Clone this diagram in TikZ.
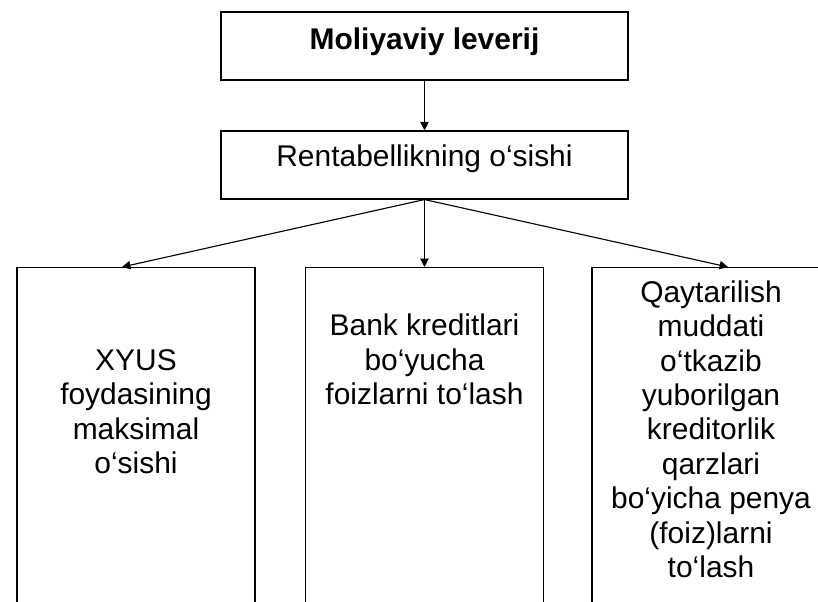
\documentclass[tikz,border=0pt]{standalone}
\usepackage{fontspec}
\setmainfont{Liberation Sans}
\usetikzlibrary{positioning,arrows.meta}

\begin{document}
\begin{tikzpicture}[
		blok/.style={draw, line width=0.8pt, inner sep=0pt},
		wide/.style={blok, minimum width=10.175cm, minimum height=1.7cm},
		ustun/.style={blok, anchor=north, minimum width=5.95cm, minimum height=9.5cm},
		matn/.style={anchor=north, inner sep=0pt, align=center, font=\fontsize{21.3}{24.5}\selectfont},
		strelka/.style={-{Triangle[length=6pt,width=6pt]}, line width=0.8pt}
	]
				\useasboundingbox (0, 0) rectangle (20.45, -15.05);
				\clip (0, 0) rectangle (20.45, -15.05);

				%%top two boxes
				\node[wide] (leverij) at (10.6125, -1.15) {};
				\node[matn, font=\fontsize{21.3}{24.5}\selectfont\bfseries, below=0.4cm of leverij.north] (leverijtxt) {Moliyaviy leverij};

				\node[wide] (renta) at (10.6125, -4.125) {};
				\node[matn, below=0.35cm of renta.north] (rentatxt) {Rentabellikning o‘sishi};

				%%three columns, cut off at the bottom
				\node[ustun] (xyus) at (3.4, -6.675) {};
				\node[matn, below=2.05cm of xyus.north] (xyustxt) {XYUS\\foydasining\\maksimal\\o‘sishi};

				\node[ustun] (bank) at (10.6125, -6.675) {};
				\node[matn, below=1.17cm of bank.north] (banktxt) {Bank kreditlari\\bo‘yucha\\foizlarni to‘lash};

				\node[ustun] (penya) at (17.775, -6.675) {};
				\node[matn, below=0.33cm of penya.north] (penyatxt) {Qaytarilish\\muddati\\o‘tkazib\\yuborilgan\\kreditorlik\\qarzlari\\bo‘yicha penya\\(foiz)larni\\to‘lash};

				%%arrows
				\draw[strelka] (leverij) -- (renta);
				\draw[strelka] (renta.south) -- ([xshift=-0.35cm]xyus.north);
				\draw[strelka] (renta.south) -- (bank.north);
				\draw[strelka] (renta.south) -- ([xshift=0.425cm]penya.north);
\end{tikzpicture}
\end{document}
